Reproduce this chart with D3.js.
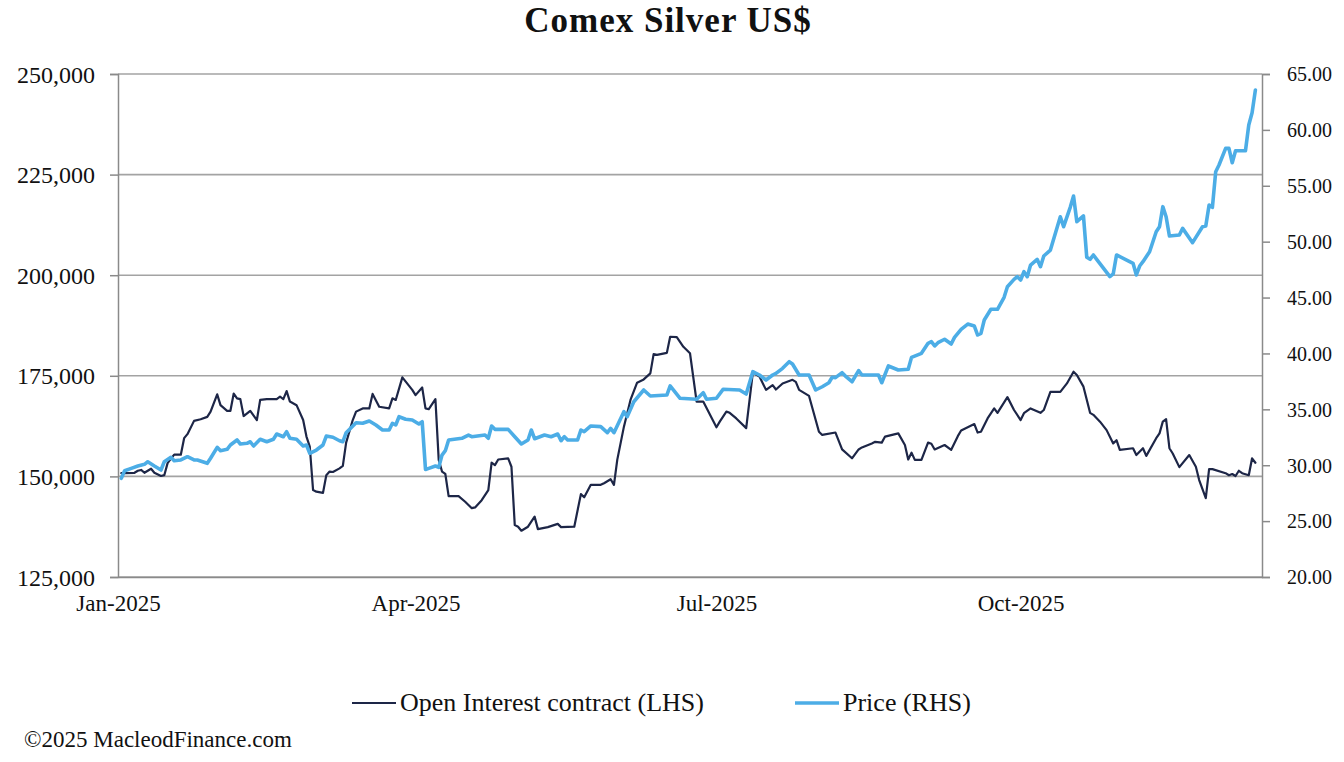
<!DOCTYPE html>
<html>
<head>
<meta charset="utf-8">
<script src="https://cdn.jsdelivr.net/npm/d3@7"></script>
<style>
  html, body { margin: 0; padding: 0; background: #ffffff; }
  svg { display: block; }
  text { font-family: "Liberation Serif", "Times New Roman", serif; fill: #111; }
</style>
</head>
<body>
<svg id="chart" width="1344" height="762"></svg>
<script>
// ---------------- DATA ----------------
const title = "Comex Silver US$";
const seriesNames = ["Open Interest contract (LHS)", "Price (RHS)"];
const credit = "\u00A92025 MacleodFinance.com";

const xTickDates = ["2025-01-01", "2025-04-01", "2025-07-01", "2025-10-01"];
const xDomain = ["2025-01-01", "2025-12-13"];
const leftTicks = [125000, 150000, 175000, 200000, 225000, 250000];
const rightTicks = [20, 25, 30, 35, 40, 45, 50, 55, 60, 65];

// Open interest (contracts), LHS
const oiDates = [
  "2025-01-02","2025-01-03","2025-01-06","2025-01-07","2025-01-08","2025-01-09","2025-01-11","2025-01-12","2025-01-14","2025-01-15","2025-01-16","2025-01-17","2025-01-18","2025-01-20","2025-01-21","2025-01-22","2025-01-24","2025-01-26","2025-01-28","2025-01-29","2025-01-31",
  "2025-02-01","2025-02-03","2025-02-04","2025-02-05","2025-02-06","2025-02-07","2025-02-08","2025-02-10","2025-02-12","2025-02-13","2025-02-15","2025-02-18","2025-02-19","2025-02-20","2025-02-21","2025-02-22","2025-02-24","2025-02-26","2025-02-27","2025-02-28",
  "2025-03-01","2025-03-02","2025-03-04","2025-03-05","2025-03-06","2025-03-07","2025-03-09","2025-03-10","2025-03-11","2025-03-13","2025-03-14","2025-03-16","2025-03-18","2025-03-19","2025-03-21","2025-03-24","2025-03-25","2025-03-26","2025-03-28","2025-03-31",
  "2025-04-01","2025-04-03","2025-04-04","2025-04-05","2025-04-07","2025-04-08","2025-04-09","2025-04-10","2025-04-11","2025-04-14","2025-04-16","2025-04-18","2025-04-19","2025-04-21","2025-04-23","2025-04-24","2025-04-25","2025-04-26","2025-04-29","2025-04-30",
  "2025-05-01","2025-05-02","2025-05-03","2025-05-05","2025-05-07","2025-05-08","2025-05-11","2025-05-14","2025-05-15","2025-05-19","2025-05-21","2025-05-22","2025-05-24","2025-05-27","2025-05-28","2025-05-30","2025-05-31",
  "2025-06-01","2025-06-03","2025-06-05","2025-06-07","2025-06-09","2025-06-11","2025-06-12","2025-06-13","2025-06-16","2025-06-17","2025-06-19","2025-06-21","2025-06-23","2025-06-25","2025-06-27",
  "2025-07-01","2025-07-02","2025-07-04","2025-07-05","2025-07-07","2025-07-10","2025-07-12","2025-07-14","2025-07-16","2025-07-18","2025-07-19","2025-07-21","2025-07-24","2025-07-25","2025-07-26","2025-07-28","2025-07-29",
  "2025-08-01","2025-08-02","2025-08-06","2025-08-08","2025-08-11","2025-08-13","2025-08-14","2025-08-17","2025-08-18","2025-08-20","2025-08-21","2025-08-25","2025-08-27","2025-08-28","2025-08-29","2025-08-30",
  "2025-09-01","2025-09-03","2025-09-04","2025-09-05","2025-09-08","2025-09-10","2025-09-12","2025-09-13","2025-09-17","2025-09-18","2025-09-19","2025-09-21","2025-09-23","2025-09-24","2025-09-27","2025-09-29",
  "2025-10-01","2025-10-02","2025-10-04","2025-10-07","2025-10-08","2025-10-10","2025-10-13","2025-10-15","2025-10-17","2025-10-18","2025-10-20","2025-10-22","2025-10-23","2025-10-25","2025-10-27","2025-10-29","2025-10-30","2025-10-31",
  "2025-11-04","2025-11-05","2025-11-07","2025-11-08","2025-11-11","2025-11-12","2025-11-13","2025-11-14","2025-11-15","2025-11-16","2025-11-18","2025-11-21","2025-11-23","2025-11-24","2025-11-26","2025-11-27","2025-11-28",
  "2025-12-02","2025-12-03","2025-12-04","2025-12-05","2025-12-06","2025-12-07","2025-12-09","2025-12-10","2025-12-11"
];
const oiValues = [
  150800,150800,150900,151400,151600,150900,151900,150900,150100,150300,153300,154400,155400,155400,159500,160500,163800,164200,164800,166100,170400,
  167700,166300,166300,170600,169400,169200,165000,166300,164000,169000,169200,169200,169800,169200,171200,168600,167700,164000,159900,157400,
  146600,146200,145900,150300,151200,151100,152000,152600,158400,164000,166100,166900,166900,170500,167300,166900,169400,169000,174600,171500,
  170200,172100,166900,166700,169200,154100,151200,150600,145100,145100,143700,142100,142300,144100,146600,153400,152800,154200,154500,152400,
  137900,137500,136500,137500,140000,136900,137400,138200,137400,137500,145600,144800,147900,147900,148300,149300,147900,
  154100,162300,169000,173300,174100,175600,180400,180200,180700,184700,184600,182200,180600,168600,168600,
  162200,163600,166100,165800,164400,162000,175800,174800,171500,172700,171600,173100,174000,173500,171500,170500,170000,
  161100,160300,160900,156700,154500,156700,157200,158200,158600,158400,159900,160700,157800,154200,155900,154100,
  154100,158400,158100,156700,157800,156600,160000,161400,163000,160900,161100,164400,166900,165800,169700,166500,
  164000,165700,166900,165800,166500,171000,171000,173100,176000,175200,172300,165800,165300,163600,161500,158200,159000,156600,
  157000,155300,157000,155100,159500,160700,163600,164200,157000,155700,152300,155300,152400,149100,144600,151800,151800,
  150800,150300,150600,150100,151400,150800,150300,154500,153400
];

// Price (US$/oz), RHS
const priceDates = [
  "2025-01-02","2025-01-03","2025-01-05","2025-01-07","2025-01-09","2025-01-10","2025-01-12","2025-01-14","2025-01-15","2025-01-17","2025-01-18","2025-01-20","2025-01-22","2025-01-24","2025-01-25","2025-01-28","2025-01-29","2025-01-31",
  "2025-02-01","2025-02-03","2025-02-04","2025-02-06","2025-02-07","2025-02-09","2025-02-10","2025-02-11","2025-02-13","2025-02-15","2025-02-17","2025-02-18","2025-02-20","2025-02-21","2025-02-22","2025-02-24","2025-02-26","2025-02-27","2025-02-28",
  "2025-03-02","2025-03-04","2025-03-05","2025-03-07","2025-03-09","2025-03-10","2025-03-11","2025-03-14","2025-03-16","2025-03-18","2025-03-20","2025-03-22","2025-03-24","2025-03-25","2025-03-26","2025-03-27","2025-03-29","2025-03-31",
  "2025-04-02","2025-04-03","2025-04-04","2025-04-05","2025-04-07","2025-04-08","2025-04-09","2025-04-10","2025-04-11","2025-04-15","2025-04-17","2025-04-18","2025-04-22","2025-04-23","2025-04-24","2025-04-25","2025-04-29",
  "2025-05-01","2025-05-03","2025-05-05","2025-05-06","2025-05-07","2025-05-10","2025-05-12","2025-05-14","2025-05-15","2025-05-16","2025-05-17","2025-05-20","2025-05-21","2025-05-22","2025-05-24","2025-05-27","2025-05-29","2025-05-30","2025-05-31",
  "2025-06-03","2025-06-04","2025-06-06","2025-06-09","2025-06-11","2025-06-16","2025-06-17","2025-06-20","2025-06-25","2025-06-27","2025-06-28",
  "2025-07-01","2025-07-03","2025-07-08","2025-07-10","2025-07-12","2025-07-14","2025-07-16","2025-07-18","2025-07-19","2025-07-21","2025-07-23","2025-07-24","2025-07-26","2025-07-29","2025-07-31",
  "2025-08-02","2025-08-04","2025-08-05","2025-08-06","2025-08-08","2025-08-09","2025-08-11","2025-08-13","2025-08-14","2025-08-19","2025-08-20","2025-08-22","2025-08-25","2025-08-28","2025-08-29",
  "2025-09-01","2025-09-03","2025-09-04","2025-09-05","2025-09-06","2025-09-08","2025-09-10","2025-09-11","2025-09-13","2025-09-15","2025-09-17","2025-09-18","2025-09-19","2025-09-20","2025-09-22","2025-09-24","2025-09-26","2025-09-27","2025-09-29","2025-09-30",
  "2025-10-01","2025-10-02","2025-10-03","2025-10-04","2025-10-06","2025-10-07","2025-10-08","2025-10-10","2025-10-13","2025-10-14","2025-10-16","2025-10-17","2025-10-18","2025-10-20","2025-10-21","2025-10-22","2025-10-23","2025-10-24","2025-10-28","2025-10-29","2025-10-30",
  "2025-11-04","2025-11-05","2025-11-06","2025-11-07","2025-11-09","2025-11-11","2025-11-12","2025-11-13","2025-11-14","2025-11-15","2025-11-18","2025-11-19","2025-11-22","2025-11-25","2025-11-26","2025-11-27","2025-11-28","2025-11-29","2025-11-30",
  "2025-12-02","2025-12-03","2025-12-04","2025-12-05","2025-12-08","2025-12-09","2025-12-10","2025-12-11"
];
const priceValues = [
  28.83,29.51,29.72,29.93,30.08,30.31,29.93,29.57,30.31,30.71,30.40,30.47,30.76,30.47,30.47,30.17,30.62,31.60,
  31.30,31.42,31.81,32.26,31.90,31.96,32.10,31.72,32.32,32.10,32.32,32.79,32.55,33.00,32.41,32.32,31.72,31.81,31.07,
  31.36,31.81,32.61,32.50,32.19,32.10,32.91,33.80,33.75,33.96,33.60,33.15,33.15,33.75,33.60,34.34,34.11,34.05,
  33.69,33.89,29.62,29.72,29.93,29.81,30.91,31.30,32.26,32.41,32.70,32.55,32.70,32.41,33.51,33.21,33.21,
  32.55,31.90,32.26,33.15,32.37,32.70,32.55,32.79,32.19,32.55,32.26,32.26,33.15,33.00,33.51,33.45,32.91,33.30,32.91,
  34.79,34.34,35.68,36.73,36.19,36.28,37.09,35.99,35.90,36.49,35.90,
  35.99,36.79,36.73,36.37,38.37,38.07,37.62,38.07,38.22,38.67,39.26,39.06,38.07,38.07,36.73,
  37.02,37.38,37.87,37.84,38.28,37.98,37.47,38.46,38.07,38.07,37.38,38.88,38.52,38.58,39.65,
  40.01,40.91,41.05,40.67,40.96,41.27,40.84,41.44,42.16,42.63,42.45,41.65,41.80,42.99,43.95,43.95,45.02,45.97,46.63,46.87,
  46.57,47.31,46.87,47.91,48.42,47.76,48.72,49.25,52.23,51.34,53.07,54.08,51.79,52.30,48.60,48.42,48.81,48.42,46.87,47.11,48.81,
  48.06,47.02,47.82,48.21,49.10,50.89,51.34,53.13,52.23,50.51,50.60,51.19,49.91,51.34,51.40,53.28,53.07,56.26,56.86,
  58.35,58.35,57.06,58.14,58.14,60.44,61.54,63.57
];

// ---------------- CHART ----------------
const parse = d3.utcParse("%Y-%m-%d");
const svg = d3.select("#chart");
const plot = { left: 118, right: 1262, top: 74, bottom: 577 };

const x = d3.scaleUtc().domain(xDomain.map(parse)).range([plot.left, plot.right]);
const yL = d3.scaleLinear().domain([125000, 250000]).range([plot.bottom, plot.top]);
const yR = d3.scaleLinear().domain([20, 65]).range([plot.bottom, plot.top]);

const oiColor = "#1d2647";
const priceColor = "#4cade6";
const gridColor = "#a3a3a3";
const axisColor = "#8a8a8a";

// Title
svg.append("text")
  .attr("x", 668).attr("y", 32)
  .attr("text-anchor", "middle")
  .style("font-size", "35px").style("font-weight", "bold")
  .style("letter-spacing", "1px")
  .text(title);

// Gridlines
svg.append("g").selectAll("line").data(leftTicks).join("line")
  .attr("x1", plot.left).attr("x2", plot.right)
  .attr("y1", d => yL(d)).attr("y2", d => yL(d))
  .attr("stroke", gridColor).attr("stroke-width", 1.6);

// Left axis
const gL = svg.append("g").attr("transform", `translate(${plot.left},0)`)
  .call(d3.axisLeft(yL).tickValues(leftTicks).tickFormat(d3.format(",")).tickSize(8).tickPadding(15));
gL.select(".domain").attr("stroke", axisColor).attr("stroke-width", 1.5);
gL.selectAll(".tick line").attr("stroke", axisColor).attr("stroke-width", 1.5);
gL.selectAll(".tick text").style("font-family", '"Liberation Serif", serif').style("font-size", "24px").attr("fill", "#111").attr("dy", "0.34em");

// Right axis
const gR = svg.append("g").attr("transform", `translate(${plot.right},0)`)
  .call(d3.axisRight(yR).tickValues(rightTicks).tickFormat(d3.format(".2f")).tickSize(8).tickPadding(17));
gR.select(".domain").attr("stroke", axisColor).attr("stroke-width", 1.5);
gR.selectAll(".tick line").attr("stroke", axisColor).attr("stroke-width", 1.5);
gR.selectAll(".tick text").style("font-family", '"Liberation Serif", serif').style("font-size", "20px").attr("fill", "#111").attr("dy", "0.34em");

// Bottom axis (labels only)
const gB = svg.append("g").attr("transform", `translate(0,${plot.bottom})`)
  .call(d3.axisBottom(x).tickValues(xTickDates.map(parse)).tickFormat(d3.utcFormat("%b-%Y")).tickSize(0).tickPadding(18));
gB.select(".domain").attr("stroke", axisColor).attr("stroke-width", 1.5);
gB.selectAll(".tick text").style("font-family", '"Liberation Serif", serif').style("font-size", "23px").attr("fill", "#111");

// Lines
const oiData = oiDates.map((d, i) => ({ date: parse(d), value: oiValues[i] }));
const priceData = priceDates.map((d, i) => ({ date: parse(d), value: priceValues[i] }));

svg.append("path").datum(oiData)
  .attr("fill", "none").attr("stroke", oiColor).attr("stroke-width", 2.2)
  .attr("stroke-linejoin", "round").attr("stroke-linecap", "round")
  .attr("d", d3.line().x(d => x(d.date)).y(d => yL(d.value)));

svg.append("path").datum(priceData)
  .attr("fill", "none").attr("stroke", priceColor).attr("stroke-width", 3.6)
  .attr("stroke-linejoin", "round").attr("stroke-linecap", "round")
  .attr("d", d3.line().x(d => x(d.date)).y(d => yR(d.value)));

// Legend
const legend = [
  { name: seriesNames[0], color: oiColor, width: 2.2, x0: 352 },
  { name: seriesNames[1], color: priceColor, width: 3.6, x0: 795 }
];
const lg = svg.append("g");
legend.forEach(l => {
  lg.append("line").attr("x1", l.x0).attr("x2", l.x0 + 44).attr("y1", 703).attr("y2", 703)
    .attr("stroke", l.color).attr("stroke-width", l.width);
  lg.append("text").attr("x", l.x0 + 48).attr("y", 711)
    .style("font-size", "26px").text(l.name);
});

// Credit
svg.append("text").attr("x", 24).attr("y", 747).style("font-size", "23px").text(credit);
</script>
</body>
</html>
